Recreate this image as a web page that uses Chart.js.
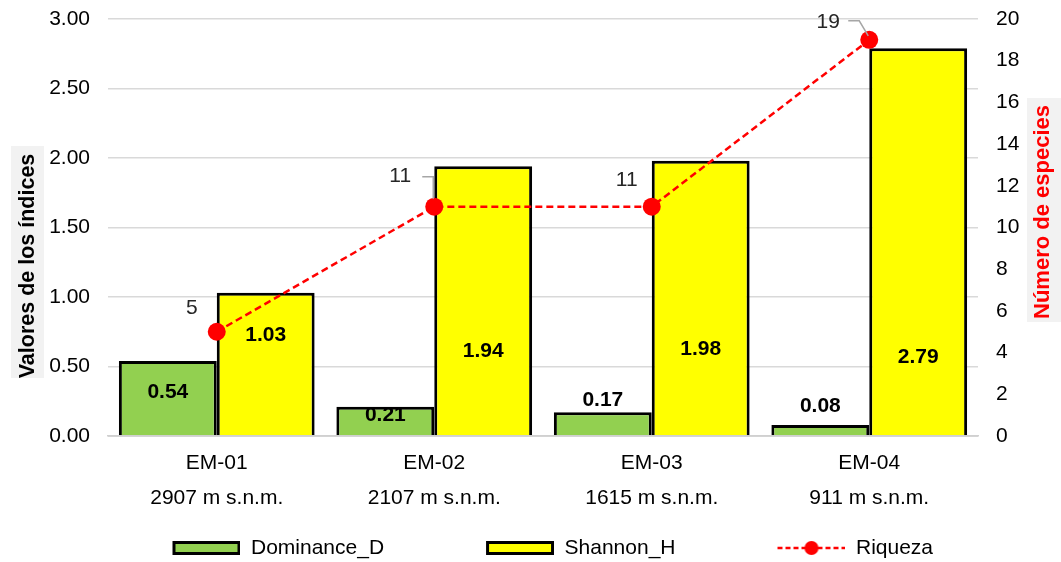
<!DOCTYPE html>
<html>
<head>
<meta charset="utf-8">
<script src="https://cdn.jsdelivr.net/npm/chart.js@4.4.1/dist/chart.umd.min.js"></script>
<style>
  html, body { margin: 0; padding: 0; background: #ffffff; }
  #wrap { width: 1061px; height: 562px; position: relative; }
</style>
</head>
<body>
<div id="wrap"><canvas id="chart" width="1061" height="562"></canvas></div>
<script>
// Estaciones de muestreo y su altitud
const estaciones = ['EM-01', 'EM-02', 'EM-03', 'EM-04'];
const altitudes = ['2907 m s.n.m.', '2107 m s.n.m.', '1615 m s.n.m.', '911 m s.n.m.'];

// Índices de diversidad (eje izquierdo)
const dominanceD = [0.54, 0.21, 0.17, 0.08];
const shannonH = [1.03, 1.94, 1.98, 2.79];

// Riqueza: número de especies (eje derecho)
const riqueza = [5, 11, 11, 19];

// Marcas de los ejes
const ticksIndices = ['0.00', '0.50', '1.00', '1.50', '2.00', '2.50', '3.00'];
const ticksEspecies = [0, 2, 4, 6, 8, 10, 12, 14, 16, 18, 20];

const FONT = '"Liberation Sans", Arial, sans-serif';
const FS = 21;
const GREEN = '#92D050';
const YELLOW = '#FFFF00';
const RED = '#FF0000';

// Legend swatches: 68px symbol, right-aligned in a wider transparent canvas
// so the blank part spaces the legend entries apart.
const SW_GAP = 94;
function swatch(fill, isLine) {
  const w = 68 + SW_GAP, h = 20;
  const c = document.createElement('canvas');
  c.width = w; c.height = h;
  const g = c.getContext('2d');
  const x0 = SW_GAP;
  if (isLine) {
    g.strokeStyle = RED; g.lineWidth = 2.5; g.setLineDash([5, 3]);
    g.beginPath(); g.moveTo(x0, h / 2); g.lineTo(w, h / 2); g.stroke();
    g.setLineDash([]);
    g.fillStyle = RED;
    g.beginPath(); g.arc(x0 + 34, h / 2, 7, 0, Math.PI * 2); g.fill();
  } else {
    g.fillStyle = fill;
    g.strokeStyle = '#000'; g.lineWidth = 3;
    g.fillRect(x0 + 1.5, 4.5, 65, 11);
    g.strokeRect(x0 + 1.5, 4.5, 65, 11);
  }
  return c;
}

// Value labels on bars and on the richness line, plus leader lines
const etiquetas = {
  id: 'etiquetas',
  afterDatasetsDraw(chart, args, opts) {
    const ctx = chart.ctx;
    const y = chart.scales.y;
    const area = chart.chartArea;
    ctx.save();
    // baseline drawn over the foot of the bars
    ctx.strokeStyle = '#D0D0D0';
    ctx.lineWidth = 1.5;
    ctx.beginPath();
    ctx.moveTo(area.left, y.getPixelForValue(0));
    ctx.lineTo(area.right, y.getPixelForValue(0));
    ctx.stroke();

    ctx.textAlign = 'center';
    ctx.textBaseline = 'middle';
    ctx.fillStyle = '#000';
    ctx.font = 'bold ' + FS + 'px ' + FONT;
    [0, 1].forEach(di => {
      const meta = chart.getDatasetMeta(di);
      const ds = chart.data.datasets[di];
      meta.data.forEach((bar, i) => {
        const at = opts.barLabelAt[di][i];
        ctx.fillText(ds.data[i].toFixed(2), bar.x, y.getPixelForValue(at));
      });
    });
    const lmeta = chart.getDatasetMeta(2);
    ctx.font = FS + 'px ' + FONT;
    ctx.fillStyle = '#262626';
    lmeta.data.forEach((pt, i) => {
      const off = opts.lineLabelOffset[i];
      ctx.fillText(String(riqueza[i]), pt.x + off[0], pt.y + off[1]);
    });
    ctx.strokeStyle = '#A6A6A6';
    ctx.lineWidth = 1.5;
    opts.leaders.forEach(ld => {
      const pt = lmeta.data[ld.index];
      ctx.beginPath();
      ld.path.forEach((p, k) => {
        const px = pt.x + p[0], py = pt.y + p[1];
        if (k === 0) ctx.moveTo(px, py); else ctx.lineTo(px, py);
      });
      ctx.stroke();
    });
    ctx.restore();
  }
};

// Axis titles with a light grey band behind the text
const titulos = {
  id: 'titulos',
  afterDraw(chart) {
    const ctx = chart.ctx;
    const area = chart.chartArea;
    function vtitle(text, cx, cy, color, bx, by, bw, bh, size) {
      ctx.save();
      ctx.fillStyle = '#F2F2F2';
      ctx.fillRect(bx, by, bw, bh);
      ctx.translate(cx, cy);
      ctx.rotate(-Math.PI / 2);
      ctx.font = 'bold ' + size + 'px ' + FONT;
      ctx.textAlign = 'center';
      ctx.textBaseline = 'middle';
      ctx.fillStyle = color;
      ctx.fillText(text, 0, 0);
      ctx.restore();
    }
    vtitle('Valores de los índices', 28, area.top + 247, '#000', 11, area.top + 127, 33, 232, 21.5);
    vtitle('Número de especies', chart.width - 18, area.top + 193, RED, chart.width - 34, area.top + 79, 34, 224, 22);
  }
};

const labels = estaciones.map((e, i) => [e, altitudes[i]]);

// Plot area: left edge at 108px, right edge at 978px
const LEFT_PAD = -49.5;

new Chart(document.getElementById('chart'), {
  data: {
    labels: labels,
    datasets: [
      {
        type: 'bar', label: 'Dominance_D', data: dominanceD, yAxisID: 'y', order: 1,
        backgroundColor: GREEN, borderColor: '#000', borderWidth: 3, borderSkipped: 'start',
        categoryPercentage: 0.9, barPercentage: 1.0
      },
      {
        type: 'bar', label: 'Shannon_H', data: shannonH, yAxisID: 'y', order: 1,
        backgroundColor: YELLOW, borderColor: '#000', borderWidth: 3, borderSkipped: 'start',
        categoryPercentage: 0.9, barPercentage: 1.0
      },
      {
        type: 'line', label: 'Riqueza', data: riqueza, yAxisID: 'y1', order: 0,
        borderColor: RED, borderWidth: 2.5, borderDash: [7, 4], fill: false, tension: 0,
        pointRadius: 9, pointBackgroundColor: RED, pointBorderColor: RED, pointBorderWidth: 0
      }
    ]
  },
  options: {
    responsive: false,
    animation: false,
    layout: { padding: { top: 19, left: LEFT_PAD, right: 0, bottom: -6.5 } },
    plugins: {
      tooltip: { enabled: false },
      legend: {
        position: 'bottom',
        labels: {
          usePointStyle: true,
          pointStyleWidth: 68 + SW_GAP,
          boxHeight: FS,
          padding: 8,
          color: '#000',
          font: { family: FONT, size: FS },
          generateLabels(chart) {
            const fills = [GREEN, YELLOW, null];
            return chart.data.datasets.map((ds, i) => ({
              text: ds.label, datasetIndex: i, pointStyle: swatch(fills[i], i === 2),
              fillStyle: 'transparent', strokeStyle: 'transparent', lineWidth: 0,
              fontColor: '#000', hidden: false
            }));
          }
        }
      },
      etiquetas: {
        barLabelAt: [
          [0.317, 0.151, 0.259, 0.216],
          [0.727, 0.61, 0.626, 0.568]
        ],
        lineLabelOffset: [[-25, -24], [-34, -30], [-25, -26], [-41, -18]],
        leaders: [
          { index: 1, path: [[-12, -30], [-1, -30], [-1, -8]] },
          { index: 3, path: [[-21, -19], [-10, -19], [-1, -4]] }
        ]
      }
    },
    scales: {
      x: {
        grid: { display: false, drawTicks: false },
        border: { display: true, color: '#D0D0D0', width: 1.5 },
        ticks: {
          color: '#000', padding: 9.5,
          font: { family: FONT, size: FS, lineHeight: 35 / FS }
        },
        afterFit(s) { s.height = 93.5; }
      },
      y: {
        position: 'left', min: 0, max: 3,
        grid: { color: '#D9D9D9', lineWidth: 1.5, drawTicks: false },
        border: { display: false },
        afterBuildTicks(s) { s.ticks = ticksIndices.map(v => ({ value: parseFloat(v) })); },
        ticks: {
          color: '#000', padding: 18,
          font: { family: FONT, size: FS },
          callback: (v, i) => ticksIndices[i]
        },
        afterFit(s) { s.width = 108 - LEFT_PAD; s.paddingTop = 0; s.paddingBottom = 0; }
      },
      y1: {
        position: 'right', min: 0, max: 20,
        grid: { display: false, drawTicks: false },
        border: { display: false },
        afterBuildTicks(s) { s.ticks = ticksEspecies.map(v => ({ value: v })); },
        ticks: {
          color: '#000', padding: 18,
          font: { family: FONT, size: FS },
          callback: v => String(v)
        },
        afterFit(s) { s.width = 83; s.paddingTop = 0; s.paddingBottom = 0; }
      }
    }
  },
  plugins: [etiquetas, titulos]
});
</script>
</body>
</html>
